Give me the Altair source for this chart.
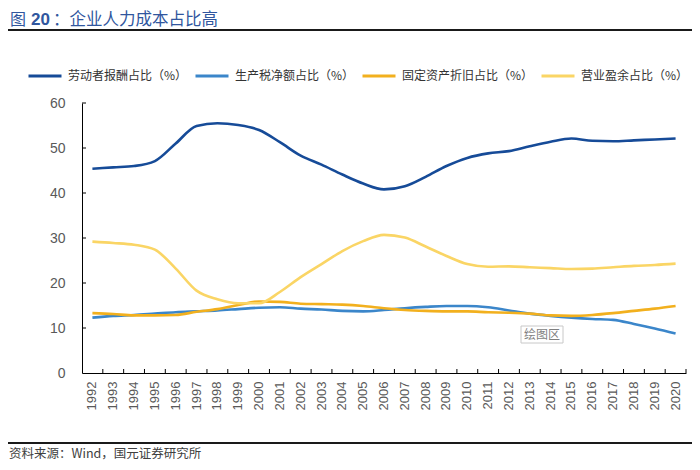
import altair as alt
import pandas as pd

years = [str(y) for y in range(1992, 2021)]
labor = [45.4, 45.7, 46.0, 47.1, 51.0, 54.9, 55.5, 55.1, 54.0, 51.3, 48.3, 46.3, 44.1, 42.1,
         40.8, 41.5, 43.6, 46.0, 47.8, 48.8, 49.3, 50.4, 51.4, 52.1, 51.6, 51.5, 51.7, 51.9, 52.1]
tax = [12.3, 12.7, 12.9, 13.2, 13.5, 13.7, 13.9, 14.2, 14.5, 14.6, 14.3, 14.1, 13.8, 13.7,
       14.0, 14.4, 14.7, 14.9, 14.9, 14.6, 13.9, 13.2, 12.7, 12.3, 12.0, 11.8, 10.9, 9.9, 8.8]
depr = [13.3, 13.1, 12.8, 12.8, 12.9, 13.6, 14.2, 15.1, 15.9, 15.8, 15.4, 15.3, 15.2, 14.9,
        14.4, 14.0, 13.8, 13.7, 13.7, 13.5, 13.4, 13.2, 12.8, 12.7, 12.9, 13.3, 13.8, 14.3, 14.9]
surplus = [29.2, 28.9, 28.5, 27.4, 23.2, 18.3, 16.4, 15.5, 15.5, 18.0, 21.3, 24.2, 27.1, 29.3,
           30.7, 30.1, 28.1, 26.0, 24.2, 23.6, 23.7, 23.5, 23.3, 23.1, 23.2, 23.5, 23.8, 24.0, 24.3]

series_names = ["劳动者报酬占比（%）", "生产税净额占比（%）", "固定资产折旧占比（%）", "营业盈余占比（%）"]
series_values = [labor, tax, depr, surplus]
colors = ["#164B98", "#3B86CA", "#F2B01E", "#FAD565"]
y_ticks = [0, 10, 20, 30, 40, 50, 60]

rows = []
for name, vals in zip(series_names, series_values):
    for yr, v in zip(years, vals):
        rows.append({"year": yr, "series": name, "value": v})
df = pd.DataFrame(rows)

CJK = "Noto Sans CJK SC"
LAT = "Liberation Sans"
TITLE_COLOR = "#30569E"
xscale = alt.Scale(type="band", paddingInner=0, paddingOuter=0)
yscale = alt.Scale(domain=[0, 60], nice=False)
xaxis = alt.Axis(title=None, labelAngle=270, labelAlign="right", labelBaseline="middle",
                 labelPadding=8, labelFontSize=13, labelFont=LAT, labelColor="#595959",
                 domainColor="#000000", ticks=False, grid=False)
yaxis = alt.Axis(title=None, values=y_ticks, ticks=False, labelPadding=17,
                 labelFontSize=14, labelFont=LAT, labelColor="#595959",
                 domainColor="#000000", grid=False)

lines = alt.Chart(df).mark_line(interpolate="monotone", strokeWidth=2.6).encode(
    x=alt.X("year:O", sort=years, scale=xscale, axis=xaxis),
    y=alt.Y("value:Q", scale=yscale, axis=yaxis),
    color=alt.Color("series:N", sort=series_names,
                    scale=alt.Scale(domain=series_names, range=colors),
                    legend=alt.Legend(title=None, orient="none", legendX=-55, legendY=-45,
                                      direction="horizontal", symbolType="stroke",
                                      symbolSize=1089, symbolStrokeWidth=3,
                                      labelFont=CJK, labelFontSize=12, labelColor="#333333",
                                      labelOffset=5, columnPadding=1)),
)

# inward tick marks
x_ticks_in = alt.Chart(pd.DataFrame({"year": years[1:]})).mark_rule(color="#000000", strokeWidth=1).encode(
    x=alt.X("year:O", sort=years, scale=xscale, bandPosition=0, axis=xaxis),
    y=alt.value(270), y2=alt.value(266))
x_tick_end = alt.Chart(pd.DataFrame({"year": years[-1:]})).mark_rule(color="#000000", strokeWidth=1).encode(
    x=alt.X("year:O", sort=years, scale=xscale, bandPosition=1, axis=xaxis),
    y=alt.value(270), y2=alt.value(266))
y_ticks_in = alt.Chart(pd.DataFrame({"value": y_ticks[1:]})).mark_rule(color="#000000", strokeWidth=1).encode(
    y=alt.Y("value:Q", scale=yscale, axis=yaxis),
    x=alt.value(0), x2=alt.value(4))

t1 = alt.Chart(pd.DataFrame({"t": ["图"]})).mark_text(
    align="left", baseline="middle", font=CJK, fontSize=16, color=TITLE_COLOR
).encode(text="t:N", x=alt.value(-72), y=alt.value(-83))
t2 = alt.Chart(pd.DataFrame({"t": ["20"]})).mark_text(
    align="left", baseline="middle", font=LAT, fontSize=17, fontWeight="bold", color=TITLE_COLOR
).encode(text="t:N", x=alt.value(-51), y=alt.value(-83))
t3 = alt.Chart(pd.DataFrame({"t": ["：企业人力成本占比高"]})).mark_text(
    align="left", baseline="middle", font=CJK, fontSize=16.5, color=TITLE_COLOR
).encode(text="t:N", x=alt.value(-29), y=alt.value(-83))

top_rule = alt.Chart(pd.DataFrame({"a": [0]})).mark_rule(color="#1a1a1a", strokeWidth=2).encode(
    x=alt.value(-74), x2=alt.value(610), y=alt.value(-73))
bottom_rule = alt.Chart(pd.DataFrame({"a": [0]})).mark_rule(color="#1a1a1a", strokeWidth=2).encode(
    x=alt.value(-74), x2=alt.value(610), y=alt.value(340))

source = alt.Chart(pd.DataFrame({"t": ["资料来源：Wind，国元证券研究所"]})).mark_text(
    align="left", baseline="middle", font=CJK, fontSize=12.5, color="#404040"
).encode(text="t:N", x=alt.value(-73), y=alt.value(351))

box = alt.Chart(pd.DataFrame({"a": [0]})).mark_rect(fill="#FFFFFF", stroke="#C8C8C8", strokeWidth=1).encode(
    x=alt.value(439), x2=alt.value(481), y=alt.value(223), y2=alt.value(240))
box_text = alt.Chart(pd.DataFrame({"t": ["绘图区"]})).mark_text(
    align="center", baseline="middle", font=CJK, fontSize=12, color="#7F7F7F"
).encode(text="t:N", x=alt.value(460), y=alt.value(231.5))

chart = alt.layer(lines, x_ticks_in, x_tick_end, y_ticks_in, box, box_text,
                  t1, t2, t3, top_rule, bottom_rule, source).properties(
    width=604, height=270,
    padding={"left": 74, "top": 95, "right": 6, "bottom": 89},
    autosize=alt.AutoSizeParams(type="none"),
    background="#FFFFFF",
).configure_view(stroke=None)

chart.save("out.html", embed_options={"renderer": "svg", "actions": False})
